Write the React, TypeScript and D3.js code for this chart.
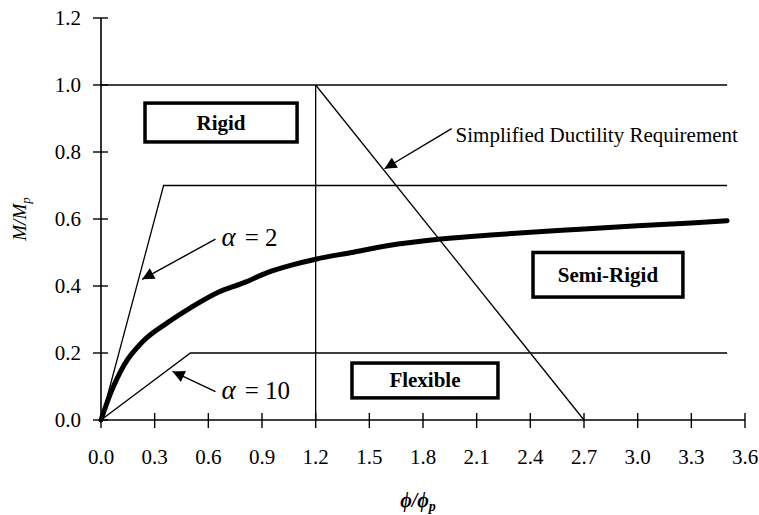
import { useEffect, useRef } from "react";
import * as d3 from "d3";

const width = 759;
const height = 515;

const MARGIN = { top: 18, right: 14, bottom: 95, left: 101 };

// x ticks (phi / phi_p) and y ticks (M / Mp)
const xTicks = [0, 0.3, 0.6, 0.9, 1.2, 1.5, 1.8, 2.1, 2.4, 2.7, 3.0, 3.3, 3.6];
const yTicks = [0, 0.2, 0.4, 0.6, 0.8, 1.0, 1.2];

// measured moment-rotation curve
const curveX = [0, 0.05, 0.13, 0.235, 0.37, 0.5, 0.65, 0.8, 0.93, 1.07, 1.2, 1.4, 1.6, 1.9, 2.2, 2.6, 3.0, 3.3, 3.5];
const curveY = [0, 0.075, 0.165, 0.235, 0.29, 0.335, 0.38, 0.41, 0.44, 0.463, 0.48, 0.5, 0.52, 0.54, 0.553, 0.567, 0.58, 0.588, 0.595];

// boundary lines
const plasticLine = [[0, 1.0], [3.5, 1.0]];
const rigidLimit = [[0, 0], [0.35, 0.7], [3.5, 0.7]];
const flexibleLimit = [[0, 0], [0.5, 0.2], [3.5, 0.2]];
const ductilityVertical = [[1.2, 0], [1.2, 1.0]];
const ductilityLine = [[1.2, 1.0], [2.7, 0]];

// zone boxes: label, x0..x1, y0..y1 (data units)
const zoneLabels = ["Rigid", "Flexible", "Semi-Rigid"];
const zoneX = [[0.246, 1.096], [1.403, 2.219], [2.415, 3.253]];
const zoneY = [[0.83, 0.946], [0.066, 0.17], [0.367, 0.5]];

// arrow annotations: text, arrow tail, arrow tip
const noteTexts = ["Simplified Ductility Requirement", "= 2", "= 10"];
const noteTail = [[1.96, 0.87], [0.64, 0.54], [0.64, 0.085]];
const noteTip = [[1.585, 0.75], [0.23, 0.42], [0.4, 0.145]];

function App() {
  const svgRef = useRef(null);

  useEffect(() => {
    draw();
  }, []);

  const draw = () => {
    const svg = d3.select(svgRef.current);
    svg.selectAll("*").remove();

    const x = d3.scaleLinear().domain([0, 3.6]).range([MARGIN.left, width - MARGIN.right]);
    const y = d3.scaleLinear().domain([0, 1.2]).range([height - MARGIN.bottom, MARGIN.top]);

    const font = "'Liberation Serif', 'Times New Roman', serif";
    const line = d3.line<number[]>().x(d => x(d[0])).y(d => y(d[1]));

    svg.append("defs").append("marker")
      .attr("id", "head")
      .attr("viewBox", "0 0 10 10")
      .attr("refX", 10).attr("refY", 5)
      .attr("markerWidth", 18).attr("markerHeight", 12)
      .attr("markerUnits", "userSpaceOnUse")
      .attr("orient", "auto")
      .append("path").attr("d", "M0,0 L10,5 L0,10 Z").attr("fill", "#000");

    // y axis
    const yAxis = svg.append("g");
    yAxis.append("line")
      .attr("x1", x(0)).attr("x2", x(0)).attr("y1", y(0)).attr("y2", y(1.2))
      .attr("stroke", "#000").attr("stroke-width", 1.6);
    yTicks.forEach(t => {
      yAxis.append("line")
        .attr("x1", x(0) - 8).attr("x2", x(0) + 7).attr("y1", y(t)).attr("y2", y(t))
        .attr("stroke", "#000").attr("stroke-width", 1.4);
      yAxis.append("text")
        .attr("x", x(0) - 20).attr("y", y(t) + 7)
        .attr("text-anchor", "end")
        .attr("font-family", font).attr("font-size", 21)
        .text(t.toFixed(1));
    });

    // x axis
    const xAxis = svg.append("g");
    xAxis.append("line")
      .attr("x1", x(0)).attr("x2", x(3.6)).attr("y1", y(0)).attr("y2", y(0))
      .attr("stroke", "#000").attr("stroke-width", 1.6);
    xTicks.forEach(t => {
      xAxis.append("line")
        .attr("x1", x(t)).attr("x2", x(t)).attr("y1", y(0) - 7).attr("y2", y(0) + 8)
        .attr("stroke", "#000").attr("stroke-width", 1.4);
      xAxis.append("text")
        .attr("x", x(t)).attr("y", y(0) + 44)
        .attr("text-anchor", "middle")
        .attr("font-family", font).attr("font-size", 21)
        .text(t.toFixed(1));
    });

    // axis titles
    const xt = svg.append("text")
      .attr("x", 418).attr("y", 507)
      .attr("text-anchor", "middle")
      .attr("font-family", font).attr("font-size", 20)
      .attr("font-weight", "bold").attr("font-style", "italic");
    xt.append("tspan").text("\u03d5/\u03d5");
    xt.append("tspan").attr("font-size", 14).attr("dy", 4).text("p");

    const yt = svg.append("text")
      .attr("transform", `translate(26, ${y(0.6)}) rotate(-90)`)
      .attr("text-anchor", "middle")
      .attr("font-family", font).attr("font-size", 19)
      .attr("font-style", "italic");
    yt.append("tspan").text("M/M");
    yt.append("tspan").attr("font-size", 13).attr("dy", 4).text("p");

    // boundary lines
    const thin = (pts: number[][]) => svg.append("path")
      .attr("d", line(pts))
      .attr("fill", "none").attr("stroke", "#000").attr("stroke-width", 1.3);
    thin(plasticLine);
    thin(rigidLimit);
    thin(flexibleLimit);
    thin(ductilityVertical);
    thin(ductilityLine);

    // curve
    svg.append("path")
      .attr("d", d3.line<number>().x((d, i) => x(curveX[i])).y(d => y(d)).curve(d3.curveMonotoneX)(curveY))
      .attr("fill", "none").attr("stroke", "#000").attr("stroke-width", 5)
      .attr("stroke-linecap", "round");

    // zone boxes
    zoneLabels.forEach((lab, i) => {
      const x0 = x(zoneX[i][0]), x1 = x(zoneX[i][1]);
      const y0 = y(zoneY[i][1]), y1 = y(zoneY[i][0]);
      svg.append("rect")
        .attr("x", x0).attr("y", y0).attr("width", x1 - x0).attr("height", y1 - y0)
        .attr("fill", "#fff").attr("stroke", "#000").attr("stroke-width", 3.5);
      svg.append("text")
        .attr("x", (x0 + x1) / 2).attr("y", (y0 + y1) / 2 + 7)
        .attr("text-anchor", "middle")
        .attr("font-family", font).attr("font-size", 21).attr("font-weight", "bold")
        .text(lab);
    });

    // arrows and their notes
    noteTexts.forEach((txt, i) => {
      svg.append("line")
        .attr("x1", x(noteTail[i][0])).attr("y1", y(noteTail[i][1]))
        .attr("x2", x(noteTip[i][0])).attr("y2", y(noteTip[i][1]))
        .attr("stroke", "#000").attr("stroke-width", 1.4)
        .attr("marker-end", "url(#head)");
      const tx = x(noteTail[i][0]) + (i === 0 ? 4 : 6);
      const t = svg.append("text")
        .attr("x", tx).attr("y", y(noteTail[i][1]) + (i === 0 ? 13 : 7))
        .attr("font-family", font).attr("font-size", i === 0 ? 21 : 25);
      if (i > 0) {
        t.append("tspan").attr("font-style", "italic").attr("font-size", 27).text("\u03b1");
        t.append("tspan").attr("dx", 9).text(txt);
      } else {
        t.text(txt);
      }
    });
  };

  return (
    <div>
      <svg width={width} height={height} ref={svgRef}
        style={{ position: "absolute", left: 0, top: 0, background: "#fff" }}>
      </svg>
    </div>
  );
}

export default App;
